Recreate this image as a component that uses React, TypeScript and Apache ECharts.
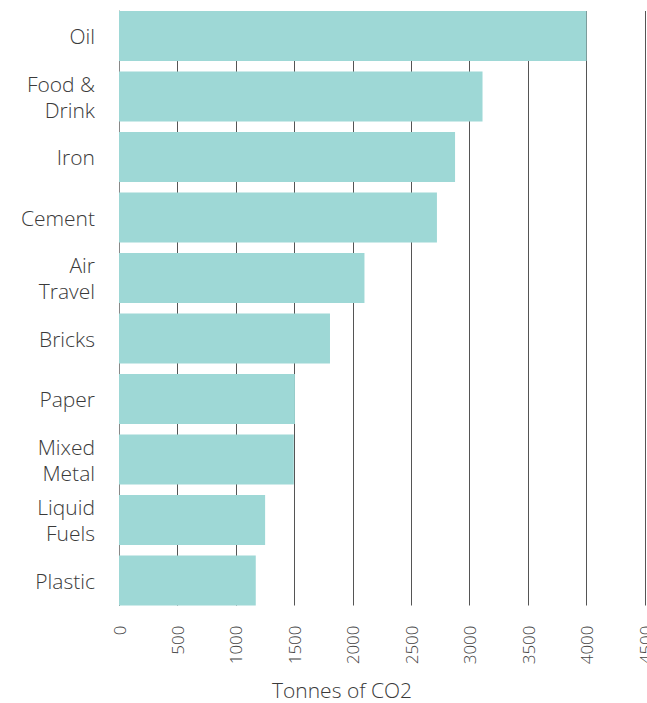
import React, { useEffect, useRef } from "react";
import * as echarts from "echarts";

const categories = ["Oil", "Food &\nDrink", "Iron", "Cement", "Air\nTravel", "Bricks", "Paper", "Mixed\nMetal", "Liquid\nFuels", "Plastic"];
const values = [4000, 3110, 2875, 2720, 2100, 1805, 1505, 1495, 1250, 1170];
const axisName = "Tonnes of CO2";

export default function App() {
  const ref = useRef<HTMLDivElement>(null);
  useEffect(() => {
    if (!ref.current) return;
    const chart = echarts.init(ref.current, undefined, { renderer: "svg" });
    const font = "'Open Sans'";
    chart.setOption({
      animation: false,
      grid: [
        { left: 119, right: 2, top: 5.75, height: 605, containLabel: false, outerBoundsMode: "none" },
        { left: 119, right: 2, top: 11, height: 594.5, containLabel: false, outerBoundsMode: "none" },
      ],
      xAxis: [
        { gridIndex: 0, type: "value", min: 0, max: 4500, interval: 500, show: false },
        {
          gridIndex: 1, type: "value", min: 0, max: 4500, interval: 500,
          axisLine: { show: false }, axisTick: { show: false },
          splitLine: { show: true, lineStyle: { color: "#555", width: 1 } },
          axisLabel: {
            rotate: 90, margin: 20, fontSize: 17, fontWeight: 300, color: "#444", fontFamily: font,
            showMaxLabel: true, formatter: (v: number) => String(v),
          },
        },
      ],
      yAxis: [
        {
          gridIndex: 0, type: "category", data: categories, inverse: true,
          axisLine: { show: false }, axisTick: { show: false },
          axisLabel: { fontSize: 21, fontWeight: 300, color: "#3a3a3a", fontFamily: font, margin: 24, lineHeight: 26, align: "right" },
        },
        {
          gridIndex: 1, type: "value", min: 0, max: 1, show: true,
          axisLine: { show: true, lineStyle: { color: "#888", width: 1 } },
          axisTick: { show: false }, axisLabel: { show: false }, splitLine: { show: false },
        },
      ],
      series: [
        {
          type: "bar", xAxisIndex: 0, yAxisIndex: 0, data: values,
          barCategoryGap: "17.4%", itemStyle: { color: "#9ed8d6" }, z: 3,
        },
      ],
      graphic: [
        {
          type: "text", x: 342, y: 690,
          style: { text: axisName, fontSize: 21, fontWeight: 300, fill: "#3a3a3a", fontFamily: font, align: "center", verticalAlign: "middle" },
        },
      ],
    });
    return () => chart.dispose();
  }, []);
  return <div ref={ref} style={{ width: 647, height: 703, position: "absolute", left: 0, top: 0 }} />;
}
